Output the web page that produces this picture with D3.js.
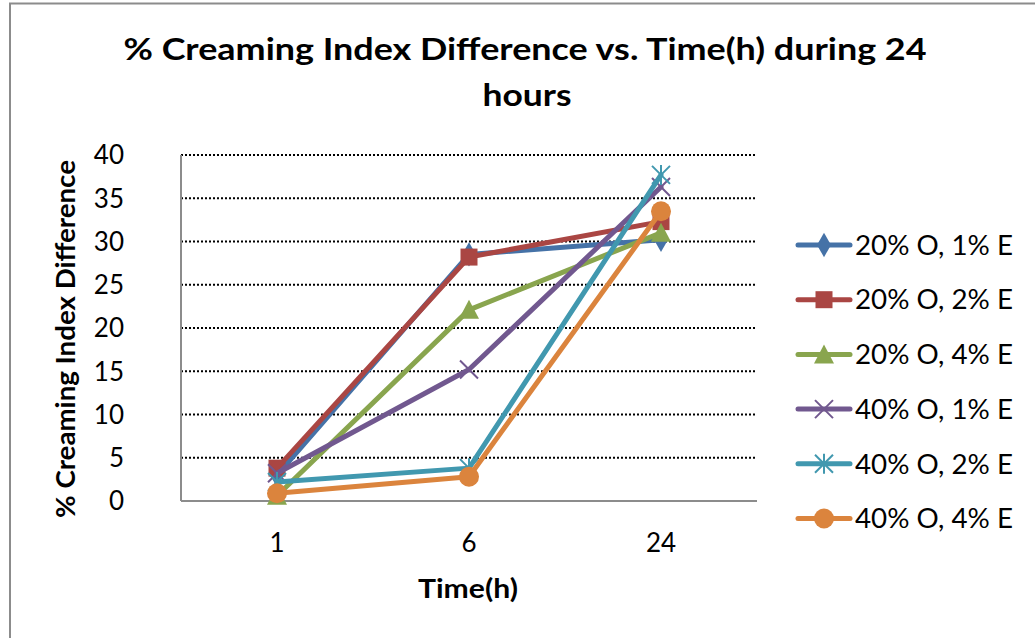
<!DOCTYPE html>
<html>
<head>
<meta charset="utf-8">
<script src="https://cdn.jsdelivr.net/npm/d3@7"></script>
<style>
  body { margin: 0; background: #fff; }
  text { font-family: Lato, "Open Sans", sans-serif; fill: #000; }
</style>
</head>
<body>
<div id="chart"></div>
<script>
// categories on x axis (hours)
const times = ["1", "6", "24"];
const yTicks = [0, 5, 10, 15, 20, 25, 30, 35, 40];

// series names and values
const seriesNames = ["20% O, 1% E", "20% O, 2% E", "20% O, 4% E", "40% O, 1% E", "40% O, 2% E", "40% O, 4% E"];
const o20e1 = [3.0, 28.5, 30.2];
const o20e2 = [3.8, 28.2, 32.3];
const o20e4 = [0.6, 22.1, 31.0];
const o40e1 = [3.2, 15.2, 36.3];
const o40e2 = [2.2, 3.8, 37.7];
const o40e4 = [0.9, 2.8, 33.5];

const seriesValues = [o20e1, o20e2, o20e4, o40e1, o40e2, o40e4];
const colors = ["#4572A7", "#AA4643", "#89A54E", "#71588F", "#4198AF", "#DB843D"];
const markers = ["diamond", "square", "triangle", "x", "star", "circle"];

const W = 1035, H = 638;
const plot = { left: 181, right: 757, top: 155, bottom: 501 };

const svg = d3.select('#chart')
  .append('svg')
    .attr('width', W)
    .attr('height', H);

// outer frame (only top and left edges visible)
svg.append('path')
  .attr('d', 'M10,' + H + ' V3.5 H' + W)
  .attr('fill', 'none')
  .attr('stroke', '#8c8c8c')
  .attr('stroke-width', 2);

// scales
let x = d3.scaleBand()
  .domain(times)
  .range([plot.left, plot.right]);
let y = d3.scaleLinear()
  .domain([0, 40])
  .range([plot.bottom, plot.top]);

// gridlines
svg.append('g')
  .selectAll('line')
  .data(yTicks.filter(d => d > 0))
  .enter()
  .append('line')
    .attr('x1', plot.left)
    .attr('x2', plot.right)
    .attr('y1', d => y(d))
    .attr('y2', d => y(d))
    .attr('stroke', '#000')
    .attr('stroke-width', 2)
    .attr('stroke-dasharray', '2,2');

// axes lines
svg.append('line')
  .attr('x1', plot.left).attr('x2', plot.left)
  .attr('y1', plot.top).attr('y2', plot.bottom)
  .attr('stroke', '#8c8c8c').attr('stroke-width', 2);
svg.append('line')
  .attr('x1', plot.left).attr('x2', plot.right)
  .attr('y1', plot.bottom).attr('y2', plot.bottom)
  .attr('stroke', '#8c8c8c').attr('stroke-width', 2);

// y tick labels
svg.append('g')
  .selectAll('text')
  .data(yTicks)
  .enter()
  .append('text')
    .attr('x', 124)
    .attr('y', d => y(d))
    .attr('dy', '0.36em')
    .attr('text-anchor', 'end')
    .style('font-size', '26px')
    .text(d => d);

// x tick labels
svg.append('g')
  .selectAll('text')
  .data(times)
  .enter()
  .append('text')
    .attr('x', d => x(d) + x.bandwidth() / 2)
    .attr('y', 543)
    .attr('dy', '0.36em')
    .attr('text-anchor', 'middle')
    .style('font-size', '26px')
    .text(d => d);

// titles
svg.append('text')
  .attr('x', 525).attr('y', 60)
  .attr('text-anchor', 'middle')
  .style('font-size', '31px').style('font-weight', 'bold')
  .attr('textLength', 803).attr('lengthAdjust', 'spacingAndGlyphs')
  .text('% Creaming Index Difference vs. Time(h) during 24');
svg.append('text')
  .attr('x', 527).attr('y', 106)
  .attr('text-anchor', 'middle')
  .style('font-size', '31px').style('font-weight', 'bold')
  .attr('textLength', 89).attr('lengthAdjust', 'spacingAndGlyphs')
  .text('hours');
svg.append('text')
  .attr('x', 468).attr('y', 598)
  .attr('text-anchor', 'middle')
  .style('font-size', '26px').style('font-weight', 'bold')
  .attr('textLength', 100).attr('lengthAdjust', 'spacingAndGlyphs')
  .text('Time(h)');
svg.append('text')
  .attr('transform', 'translate(75,339) rotate(-90)')
  .attr('text-anchor', 'middle')
  .style('font-size', '26px').style('font-weight', 'bold')
  .attr('textLength', 358).attr('lengthAdjust', 'spacingAndGlyphs')
  .text('% Creaming Index Difference');

// marker shapes
function drawMarker(g, type, color, cx, cy) {
  if (type === 'diamond') {
    g.append('path').attr('d', d3.symbol(d3.symbolDiamond, 170)()).attr('transform', 'translate(' + cx + ',' + cy + ')').attr('fill', color);
  } else if (type === 'square') {
    g.append('rect').attr('x', cx - 8.5).attr('y', cy - 8.5).attr('width', 17).attr('height', 17).attr('fill', color);
  } else if (type === 'triangle') {
    g.append('path').attr('d', 'M' + cx + ',' + (cy - 10) + 'L' + (cx + 10) + ',' + (cy + 9) + 'L' + (cx - 10) + ',' + (cy + 9) + 'Z').attr('fill', color);
  } else if (type === 'circle') {
    g.append('circle').attr('cx', cx).attr('cy', cy).attr('r', 10).attr('fill', color);
  } else {
    const r = 9;
    let d = 'M' + (cx - r) + ',' + (cy - r) + 'L' + (cx + r) + ',' + (cy + r) + 'M' + (cx - r) + ',' + (cy + r) + 'L' + (cx + r) + ',' + (cy - r);
    if (type === 'star') d += 'M' + cx + ',' + (cy - r - 1) + 'V' + (cy + r + 1);
    g.append('path').attr('d', d).attr('stroke', color).attr('stroke-width', 2).attr('fill', 'none');
  }
}

// series lines and markers
const line = d3.line()
  .x((d, i) => x(times[i]) + x.bandwidth() / 2)
  .y(d => y(d));

seriesValues.forEach((vals, k) => {
  const g = svg.append('g');
  g.append('path')
    .attr('d', line(vals))
    .attr('fill', 'none')
    .attr('stroke', colors[k])
    .attr('stroke-width', 5)
    .attr('stroke-linejoin', 'round')
    .attr('stroke-linecap', 'round');
  vals.forEach((v, i) => drawMarker(g, markers[k], colors[k], x(times[i]) + x.bandwidth() / 2, y(v)));
});

// legend
const legend = svg.append('g');
seriesNames.forEach((name, k) => {
  const ly = 245 + k * 54.7;
  legend.append('line')
    .attr('x1', 798).attr('x2', 850)
    .attr('y1', ly).attr('y2', ly)
    .attr('stroke', colors[k]).attr('stroke-width', 5)
    .attr('stroke-linecap', 'round');
  drawMarker(legend, markers[k], colors[k], 824, ly);
  legend.append('text')
    .attr('x', 855).attr('y', ly)
    .attr('dy', '0.36em')
    .style('font-size', '27px')
    .attr('textLength', 158).attr('lengthAdjust', 'spacingAndGlyphs')
    .text(name);
});
</script>
</body>
</html>
